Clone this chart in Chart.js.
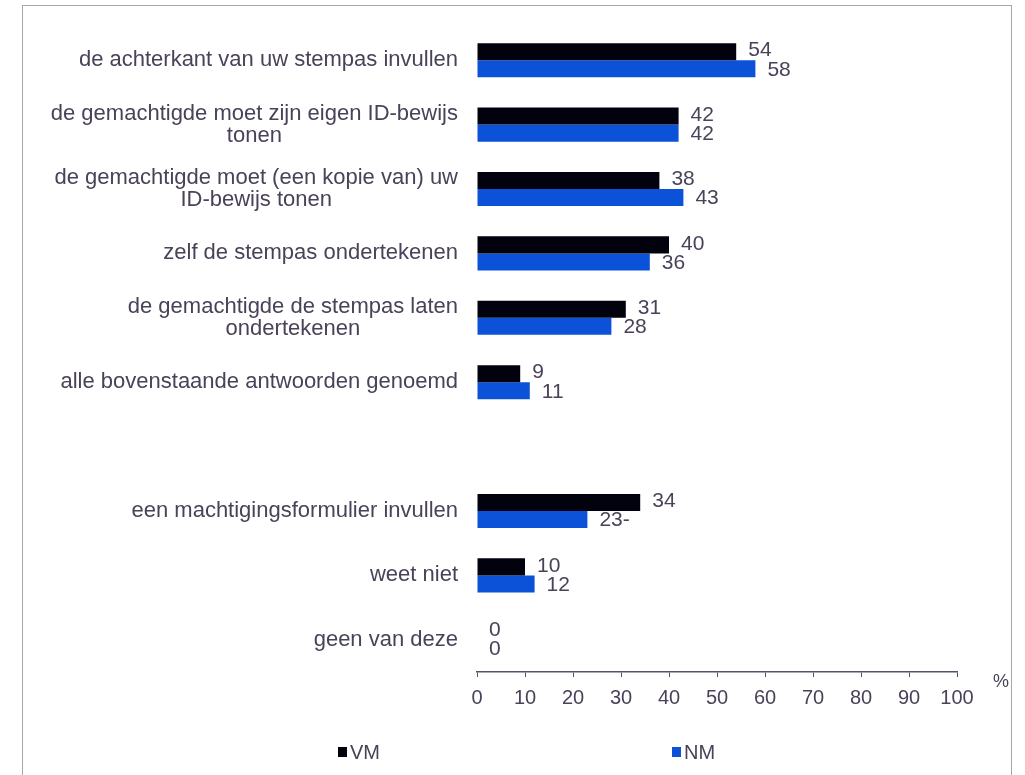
<!DOCTYPE html>
<html>
<head>
<meta charset="utf-8">
<script src="https://cdn.jsdelivr.net/npm/chart.js@4"></script>
<style>
  html, body { margin: 0; padding: 0; background: #fff; }
  #wrap { position: relative; width: 1025px; height: 775px; }
  #frame { position: absolute; left: 22px; top: 5px; width: 990px; height: 780px;
           border: 1px solid #a8a4b0; box-sizing: border-box; }
  canvas { position: absolute; left: 0; top: 0; }
</style>
</head>
<body>
<div id="wrap">
  <div id="frame"></div>
  <canvas id="chart" width="1025" height="775"></canvas>
</div>
<script>
// categories (empty entry = the gap between the two groups)
const categories = [
    ['de achterkant van uw stempas invullen'],
    ['de gemachtigde moet zijn eigen ID-bewijs', 'tonen'],
    ['de gemachtigde moet (een kopie van) uw', 'ID-bewijs tonen'],
    ['zelf de stempas ondertekenen'],
    ['de gemachtigde de stempas laten', 'ondertekenen'],
    ['alle bovenstaande antwoorden genoemd'],
    [''],
    ['een machtigingsformulier invullen'],
    ['weet niet'],
    ['geen van deze']
];
const vmValues = [54, 42, 38, 40, 31, 9, null, 34, 10, 0];
const nmValues = [58, 42, 43, 36, 28, 11, null, 23, 12, 0];
const nmSuffix = ['', '', '', '', '', '', '', '-', '', ''];
const xTicks = [0, 10, 20, 30, 40, 50, 60, 70, 80, 90, 100];

const textColor = '#4a4258';
const fontFamily = 'Arial, "Liberation Sans", sans-serif';

// category labels: block right-aligned, lines centred inside the block
const categoryLabels = {
    id: 'categoryLabels',
    afterDraw(chart) {
        const ctx = chart.ctx;
        const y = chart.scales.y;
        const right = chart.chartArea.left - 19;
        const lineH = 22;
        ctx.save();
        ctx.font = '22px ' + fontFamily;
        ctx.fillStyle = textColor;
        ctx.textAlign = 'center';
        ctx.textBaseline = 'middle';
        categories.forEach((lines, i) => {
            const w = Math.max(...lines.map(l => ctx.measureText(l).width));
            const cx = right - w / 2;
            const cy = y.getPixelForValue(i);
            const top = cy - (lines.length - 1) * lineH / 2;
            lines.forEach((l, k) => ctx.fillText(l, cx, top + k * lineH));
        });
        ctx.restore();
    }
};

// value labels next to bar ends
const valueLabels = {
    id: 'valueLabels',
    afterDatasetsDraw(chart) {
        const ctx = chart.ctx;
        ctx.save();
        ctx.font = '21px ' + fontFamily;
        ctx.fillStyle = textColor;
        ctx.textAlign = 'left';
        ctx.textBaseline = 'middle';
        chart.data.datasets.forEach((ds, di) => {
            const meta = chart.getDatasetMeta(di);
            meta.data.forEach((bar, i) => {
                const v = ds.data[i];
                if (v === null) return;
                const text = String(v) + (di === 1 ? nmSuffix[i] : '');
                const dy = di === 0 ? -1 : 1;
                ctx.fillText(text, bar.x + 12, bar.y + dy);
            });
        });
        // unit label
        const xs = chart.scales.x;
        ctx.font = '18px ' + fontFamily;
        ctx.fillText('%', xs.right + 36, xs.top + 10);
        ctx.restore();
    }
};

// legend with the two items spread apart
const spreadLegend = {
    id: 'spreadLegend',
    afterDraw(chart) {
        const ctx = chart.ctx;
        const pos = [338, 672];
        ctx.save();
        ctx.font = '20px ' + fontFamily;
        ctx.textBaseline = 'middle';
        chart.data.datasets.forEach((ds, i) => {
            ctx.fillStyle = ds.backgroundColor;
            ctx.fillRect(pos[i], 747, 9, 10);
            ctx.fillStyle = textColor;
            ctx.fillText(ds.label, pos[i] + 12, 753);
        });
        ctx.restore();
    }
};

new Chart(document.getElementById('chart'), {
    type: 'bar',
    data: {
        labels: categories.map(c => c.join(' ')),
        datasets: [
            {
                label: 'VM',
                data: vmValues,
                backgroundColor: '#02020e',
                categoryPercentage: 0.53,
                barPercentage: 1.0
            },
            {
                label: 'NM',
                data: nmValues,
                backgroundColor: '#0c52d8',
                categoryPercentage: 0.53,
                barPercentage: 1.0
            }
        ]
    },
    options: {
        indexAxis: 'y',
        responsive: false,
        animation: false,
        layout: {
            padding: { top: 28, right: 68, bottom: 63, left: 0 }
        },
        plugins: {
            legend: { display: false },
            tooltip: { enabled: false }
        },
        scales: {
            x: {
                min: 0,
                max: 100,
                afterFit(scale) { scale.height = 40; },
                afterBuildTicks(scale) { scale.ticks = xTicks.map(v => ({ value: v })); },
                grid: {
                    display: true,
                    drawOnChartArea: false,
                    drawTicks: true,
                    tickLength: 5,
                    color: '#5a5068'
                },
                border: { display: true, color: '#5a5068', width: 1.5 },
                ticks: {
                    color: textColor,
                    padding: 9,
                    font: { size: 20, family: fontFamily }
                }
            },
            y: {
                afterFit(scale) { scale.width = 477; },
                grid: { display: false, drawTicks: false },
                border: { display: false },
                ticks: { display: false }
            }
        }
    },
    plugins: [categoryLabels, valueLabels, spreadLegend]
});
</script>
</body>
</html>
